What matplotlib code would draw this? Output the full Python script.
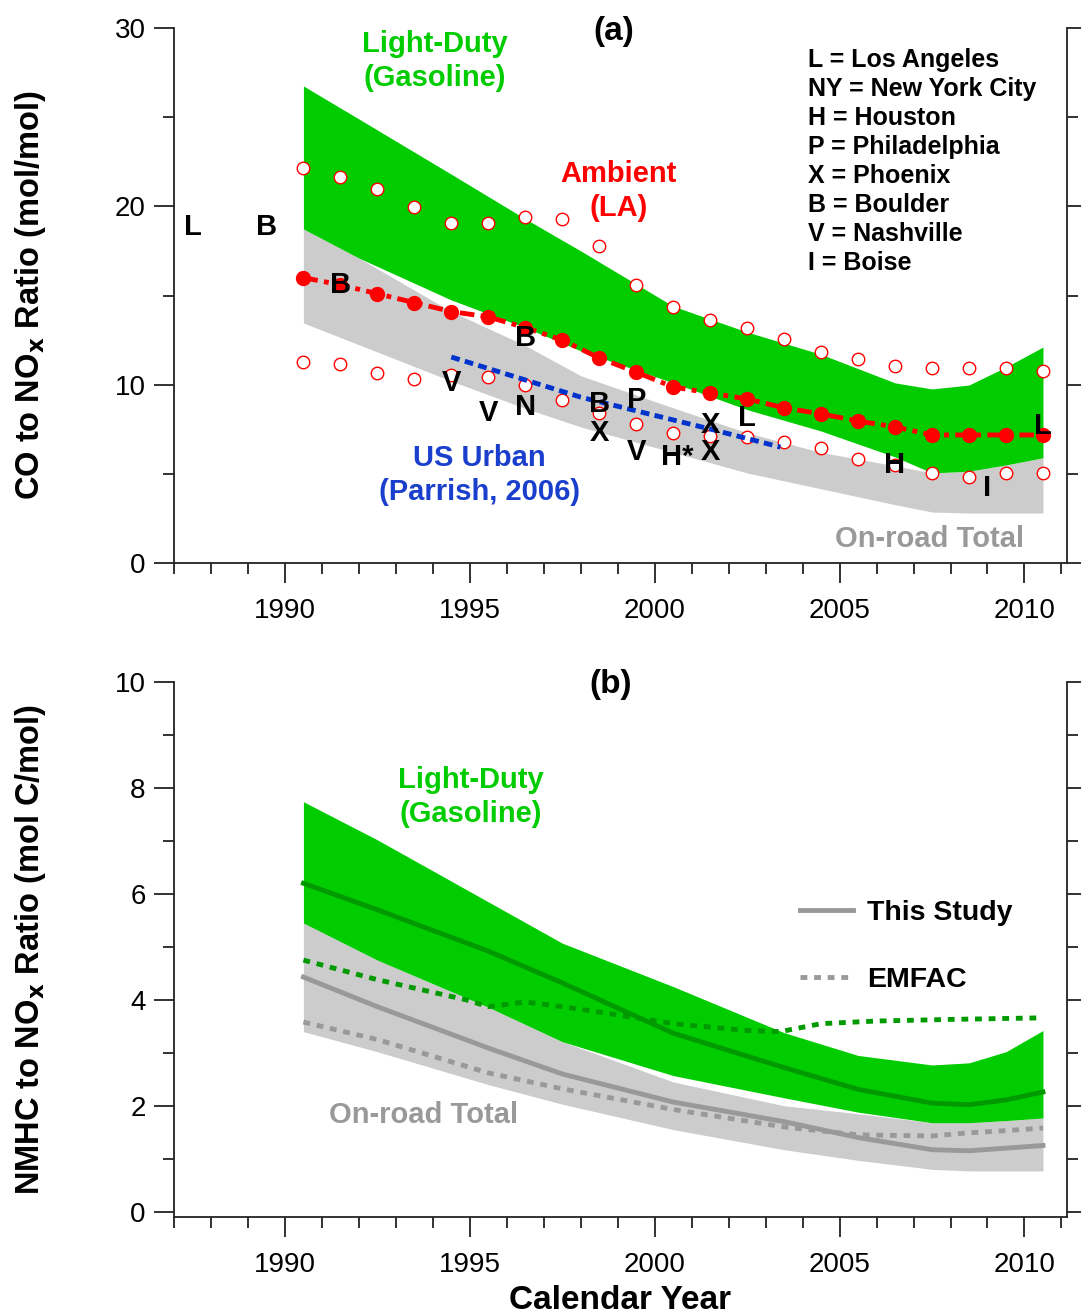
import numpy as np
import matplotlib
matplotlib.use("Agg")
import matplotlib.pyplot as plt
from matplotlib.ticker import MultipleLocator
from matplotlib.lines import Line2D

plt.rcParams['font.family'] = ['Liberation Sans', 'DejaVu Sans']

# ---------------- panel (a): CO / NOx ----------------
band_x_a = [1990.5, 1992.0, 1994.5, 1996.5, 1998.0, 2000.5, 2002.5, 2004.5,
            2006.5, 2007.5, 2008.5, 2009.5, 2010.5]
ld_hi_a = [26.75, 24.9, 21.8, 19.3, 17.5, 14.4, 12.95, 11.7, 10.1, 9.76, 9.98, 10.99, 12.11]
ld_lo_a = [18.73, 17.1, 14.75, 13.2, 11.9, 10.1, 8.6, 7.4, 5.95, 5.05, 5.15, 5.5, 5.9]
tot_hi_a = [18.73, 17.1, 14.1, 12.2, 10.5, 8.7, 7.3, 6.2, 5.45, 5.05, 5.15, 5.5, 5.9]
tot_lo_a = [13.46, 12.24, 10.2, 8.67, 7.63, 6.2, 5.05, 4.16, 3.27, 2.86, 2.8, 2.8, 2.8]

amb_years = [1990.5, 1991.5, 1992.5, 1993.5, 1994.5, 1995.5, 1996.5, 1997.5, 1998.5,
             1999.5, 2000.5, 2001.5, 2002.5, 2003.5, 2004.5, 2005.5, 2006.5, 2007.5,
             2008.5, 2009.5, 2010.5]
amb_mean = [16.0, 15.6, 15.1, 14.6, 14.1, 13.8, 13.2, 12.5, 11.5, 10.7, 9.87, 9.53,
            9.2, 8.7, 8.36, 7.96, 7.63, 7.18, 7.18, 7.18, 7.18]
amb_hi = [22.15, 21.65, 20.98, 19.97, 19.07, 19.07, 19.4, 19.3, 17.78, 15.59, 14.36,
          13.63, 13.18, 12.56, 11.83, 11.44, 11.05, 10.94, 10.94, 10.94, 10.77]
amb_lo = [11.27, 11.16, 10.66, 10.32, 10.54, 10.43, 9.98, 9.14, 8.4, 7.8, 7.29, 7.1,
          7.07, 6.79, 6.45, 5.83, 5.5, 5.05, 4.82, 5.05, 5.05]

urban_x = [1994.5, 1998.0, 2001.6, 2003.4]
urban_y = [11.55, 9.3, 7.46, 6.5]

# city markers: letter, year, ratio
city_letters = ['L', 'B', 'B', 'B', 'V', 'V', 'N', 'B', 'X', 'P', 'V', 'H*', 'X', 'X',
                'L', 'H', 'I', 'L']
city_years = [1987.5, 1989.5, 1991.5, 1996.5, 1994.5, 1995.5, 1996.5, 1998.5, 1998.5,
              1999.5, 1999.5, 2000.6, 2001.5, 2001.5, 2002.5, 2006.5, 2009.0, 2010.5]
city_vals = [18.85, 18.85, 15.6, 12.6, 10.1, 8.4, 8.75, 8.9, 7.3, 9.14, 6.2, 5.95,
             7.74, 6.23, 8.13, 5.5, 4.2, 7.7]

city_key = ['L = Los Angeles', 'NY = New York City', 'H = Houston', 'P = Philadelphia',
            'X = Phoenix', 'B = Boulder', 'V = Nashville', 'I = Boise']

# ---------------- panel (b): NMHC / NOx ----------------
band_x_b = [1990.5, 1992.5, 1995.5, 1997.5, 2000.5, 2003.5, 2005.5, 2007.5, 2008.5,
            2009.5, 2010.5]
ld_hi_b = [7.74, 7.02, 5.85, 5.07, 4.25, 3.38, 2.95, 2.77, 2.81, 3.02, 3.42]
ld_lo_b = [5.45, 4.75, 3.86, 3.21, 2.57, 2.15, 1.88, 1.68, 1.68, 1.72, 1.77]
ld_mean_b = [6.2, 5.70, 4.92, 4.32, 3.37, 2.72, 2.31, 2.05, 2.02, 2.11, 2.26]
tot_hi_b = [5.45, 4.75, 3.86, 3.21, 2.45, 2.0, 1.85, 1.68, 1.68, 1.72, 1.77]
tot_lo_b = [3.40, 3.02, 2.4, 2.03, 1.55, 1.17, 0.97, 0.8, 0.77, 0.77, 0.77]
tot_mean_b = [4.43, 3.87, 3.09, 2.6, 2.07, 1.70, 1.40, 1.17, 1.15, 1.2, 1.25]
tot_emfac_b = [3.58, 3.25, 2.62, 2.32, 1.93, 1.6, 1.45, 1.43, 1.49, 1.53, 1.58]

ld_emfac_x = [1990.5, 1992.5, 1994.9, 1995.5, 1996.5, 1997.5, 1998.5, 2000.5, 2002.5,
              2003.4, 2004.5, 2006.0, 2008.0, 2010.5]
ld_emfac_y = [4.75, 4.38, 4.0, 3.87, 3.96, 3.87, 3.77, 3.55, 3.42, 3.40, 3.55, 3.6,
              3.63, 3.66]

GREEN = '#00CC00'
DKGREEN = '#009A00'
GRAY = '#CCCCCC'
DKGRAY = '#999999'
RED = '#FF0000'
BLUE = '#0033CC'


def style_axes(ax, ymax, ymin, ymajor, yminor):
    ax.set_xlim(1987, 2011.15)
    ax.set_ylim(ymin, ymax)
    ax.spines['top'].set_visible(False)
    for s in ['left', 'right', 'bottom']:
        ax.spines[s].set_linewidth(1.3)
        ax.spines[s].set_color('#222222')
    ax.xaxis.set_major_locator(MultipleLocator(5))
    ax.xaxis.set_minor_locator(MultipleLocator(1))
    ax.yaxis.set_major_locator(MultipleLocator(ymajor))
    ax.yaxis.set_minor_locator(MultipleLocator(yminor))
    ax.tick_params(which='both', direction='out', right=True, top=False,
                   labelright=False, width=1.3, color='#222222')
    ax.tick_params(which='major', length=14.5, labelsize=20)
    ax.tick_params(which='minor', length=8)
    ax.tick_params(axis='x', which='major', pad=11)
    ax.tick_params(axis='y', which='major', pad=6)
    ax.set_xticks([1990, 1995, 2000, 2005, 2010])


fig = plt.figure(figsize=(10.81, 13.16), dpi=100)
ax1 = fig.add_axes([0.16096, 0.57219, 0.82609, 0.40653])
ax2 = fig.add_axes([0.16096, 0.07523, 0.82609, 0.40653])

# ---- (a)
ax1.fill_between(band_x_a, tot_lo_a, tot_hi_a, color=GRAY, lw=0, zorder=1)
ax1.fill_between(band_x_a, ld_lo_a, ld_hi_a, color=GREEN, lw=0, zorder=2)
ax1.plot(amb_years, amb_hi, 'o', ms=9, mfc='white', mec=RED, mew=1.0, zorder=4)
ax1.plot(amb_years, amb_lo, 'o', ms=9, mfc='white', mec=RED, mew=1.0, zorder=4)
ax1.plot(urban_x, urban_y, color=BLUE, lw=3.5, dashes=(1.8, 1.1), zorder=5)
ax1.plot(amb_years, amb_mean, color=RED, lw=3.5, dashes=(3.0, 1.3, 1.0, 1.3),
         marker='o', ms=10, mfc=RED, mec=RED, zorder=6)
for lab, xx, yy in zip(city_letters, city_years, city_vals):
    ax1.text(xx, yy, lab, fontsize=21, fontweight='bold', ha='center', va='center',
             zorder=8)
for i, line in enumerate(city_key):
    ax1.text(2004.14, 28.21 - 1.63 * i, line, fontsize=18, fontweight='bold',
             ha='left', va='center')

ax1.text(1994.05, 28.15, 'Light-Duty\n(Gasoline)', color=GREEN, fontsize=21,
         fontweight='bold', ha='center', va='center', linespacing=1.3)
ax1.text(1999.03, 20.86, 'Ambient\n(LA)', color=RED, fontsize=21,
         fontweight='bold', ha='center', va='center', linespacing=1.3)
ax1.text(1995.27, 4.94, 'US Urban\n(Parrish, 2006)', color='#1a3fcc', fontsize=21,
         fontweight='bold', ha='center', va='center', linespacing=1.3)
ax1.text(2007.43, 1.35, 'On-road Total', color=DKGRAY, fontsize=21,
         fontweight='bold', ha='center', va='center')
ax1.text(1998.9, 29.8, '(a)', fontsize=24, fontweight='bold', ha='center', va='center')

style_axes(ax1, 30, 0, 10, 5)
ax1.set_ylabel('CO to NO$_\\mathbf{x}$ Ratio (mol/mol)', fontsize=23.5, fontweight='bold')
ax1.yaxis.set_label_coords(-0.141, 0.5)

# ---- (b)
ax2.fill_between(band_x_b, tot_lo_b, tot_hi_b, color=GRAY, lw=0, zorder=1)
ax2.fill_between(band_x_b, ld_lo_b, ld_hi_b, color=GREEN, lw=0, zorder=2)
ax2.plot(band_x_b, tot_mean_b, color=DKGRAY, lw=3.5, zorder=3)
ax2.plot(band_x_b, tot_emfac_b, color=DKGRAY, lw=3.5, dashes=(1.4, 1.4), zorder=3)
ax2.plot(band_x_b, ld_mean_b, color=DKGREEN, lw=3.5, zorder=4)
ax2.plot(ld_emfac_x, ld_emfac_y, color=DKGREEN, lw=3.5, dashes=(1.4, 1.4), zorder=4)

ax2.text(1995.03, 7.83, 'Light-Duty\n(Gasoline)', color=GREEN, fontsize=21,
         fontweight='bold', ha='center', va='center', linespacing=1.3)
ax2.text(1993.76, 1.83, 'On-road Total', color=DKGRAY, fontsize=21,
         fontweight='bold', ha='center', va='center')
ax2.text(1998.8, 9.96, '(b)', fontsize=24, fontweight='bold', ha='center', va='center')

handles = [Line2D([], [], color=DKGRAY, lw=3.5),
           Line2D([], [], color=DKGRAY, lw=3.5, dashes=(1.4, 1.4))]
leg = ax2.legend(handles, ['This Study', 'EMFAC'], loc='upper left',
                 bbox_to_anchor=(0.701, 0.593), frameon=False, borderpad=0,
                 borderaxespad=0, handlelength=1.85, handletextpad=0.5,
                 labelspacing=1.44, prop={'size': 20.5, 'weight': 'bold'})

style_axes(ax2, 10, -0.1, 2, 1)
ax2.set_ylabel('NMHC to NO$_\\mathbf{x}$ Ratio (mol C/mol)', fontsize=23.5,
               fontweight='bold')
ax2.yaxis.set_label_coords(-0.141, 0.5)
ax2.set_xlabel('Calendar Year', fontsize=24, fontweight='bold')
ax2.xaxis.set_label_coords(0.5, -0.128)

fig.savefig('out.png', dpi=100)
